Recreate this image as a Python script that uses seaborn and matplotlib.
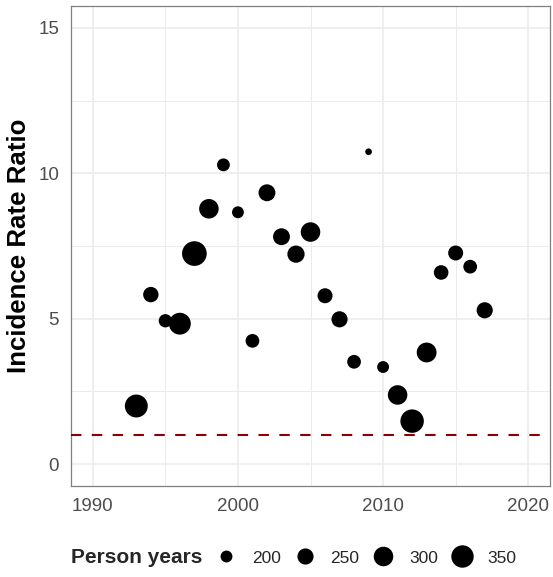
import matplotlib
matplotlib.use("Agg")
import matplotlib.pyplot as plt
from matplotlib.ticker import MultipleLocator
import seaborn as sns
import pandas as pd

# data
years = list(range(1993, 2018))
irr = [2.0, 5.83, 4.93, 4.83, 7.24, 8.78, 10.29, 8.66, 4.24, 9.33, 7.82, 7.22, 7.98,
       5.79, 4.98, 3.52, 10.74, 3.34, 2.38, 1.48, 3.84, 6.59, 7.26, 6.79, 5.29]
person_years = [360, 240, 215, 340, 395, 300, 210, 200, 220, 260, 260, 265, 300,
                235, 250, 220, 160, 200, 300, 370, 305, 230, 235, 220, 250]
legend_breaks = [200, 250, 300, 350]
reference_irr = 1

df = pd.DataFrame({'Year': years, 'IRR': irr, 'Person years': person_years})

sns.set_theme(style='white')
plt.rcParams['font.family'] = ['Liberation Sans', 'DejaVu Sans']

fig = plt.figure(figsize=(5.53, 5.77), dpi=100)
ax = fig.add_axes([0.1284, 0.1577, 0.8662, 0.8319])

size_range = (23, 316)
sns.scatterplot(data=df, x='Year', y='IRR', size='Person years', sizes=size_range,
                color='black', linewidth=0, legend=False, ax=ax, zorder=3)

ax.axhline(reference_irr, color='#8B0000', lw=1.5, dashes=(5, 5), zorder=4)

# axes, grid
ax.set_xlim(1988.5, 2021.5)
ax.set_ylim(-0.75, 15.75)
ax.xaxis.set_major_locator(MultipleLocator(10))
ax.xaxis.set_minor_locator(MultipleLocator(5))
ax.yaxis.set_major_locator(MultipleLocator(5))
ax.yaxis.set_minor_locator(MultipleLocator(2.5))
ax.grid(which='major', color='#EBEBEB', lw=1.1)
ax.grid(which='minor', color='#EBEBEB', lw=0.7)
ax.set_axisbelow(True)
for sp in ax.spines.values():
    sp.set_color('#7F7F7F')
    sp.set_linewidth(0.9)
ax.tick_params(which='major', length=2.5, width=0.9, color='#7F7F7F',
               labelsize=13.5, labelcolor='#4D4D4D', pad=6)
ax.tick_params(which='minor', length=0)
ax.set_xlabel('')
ax.set_ylabel('Incidence Rate Ratio', fontsize=18.6, fontweight='bold',
              color='black', labelpad=5)

# legend at the bottom, title on the left
# seaborn maps person years linearly onto marker area; invert that for the legend
vmin, vmax = min(person_years), max(person_years)
smin, smax = size_range
pts = ax.collections[0]
handles, labels = pts.legend_elements(
    prop='sizes', num=legend_breaks,
    func=lambda s: vmin + (s - smin) * (vmax - vmin) / (smax - smin))
labels = [str(b) for b in legend_breaks]
for h in handles:
    h.set_markeredgewidth(0)
    h.set_color('black')
fig.legend(handles, labels, loc='center left', bbox_to_anchor=(0.393, 0.033),
           ncol=4, frameon=False, fontsize=12.5, handlelength=1, handletextpad=1,
           columnspacing=0.86, borderpad=0, borderaxespad=0)
fig.text(71 / 553, 0.033, 'Person years', fontsize=15, fontweight='bold',
         ha='left', va='center')

fig.savefig('out.png', dpi=100)
